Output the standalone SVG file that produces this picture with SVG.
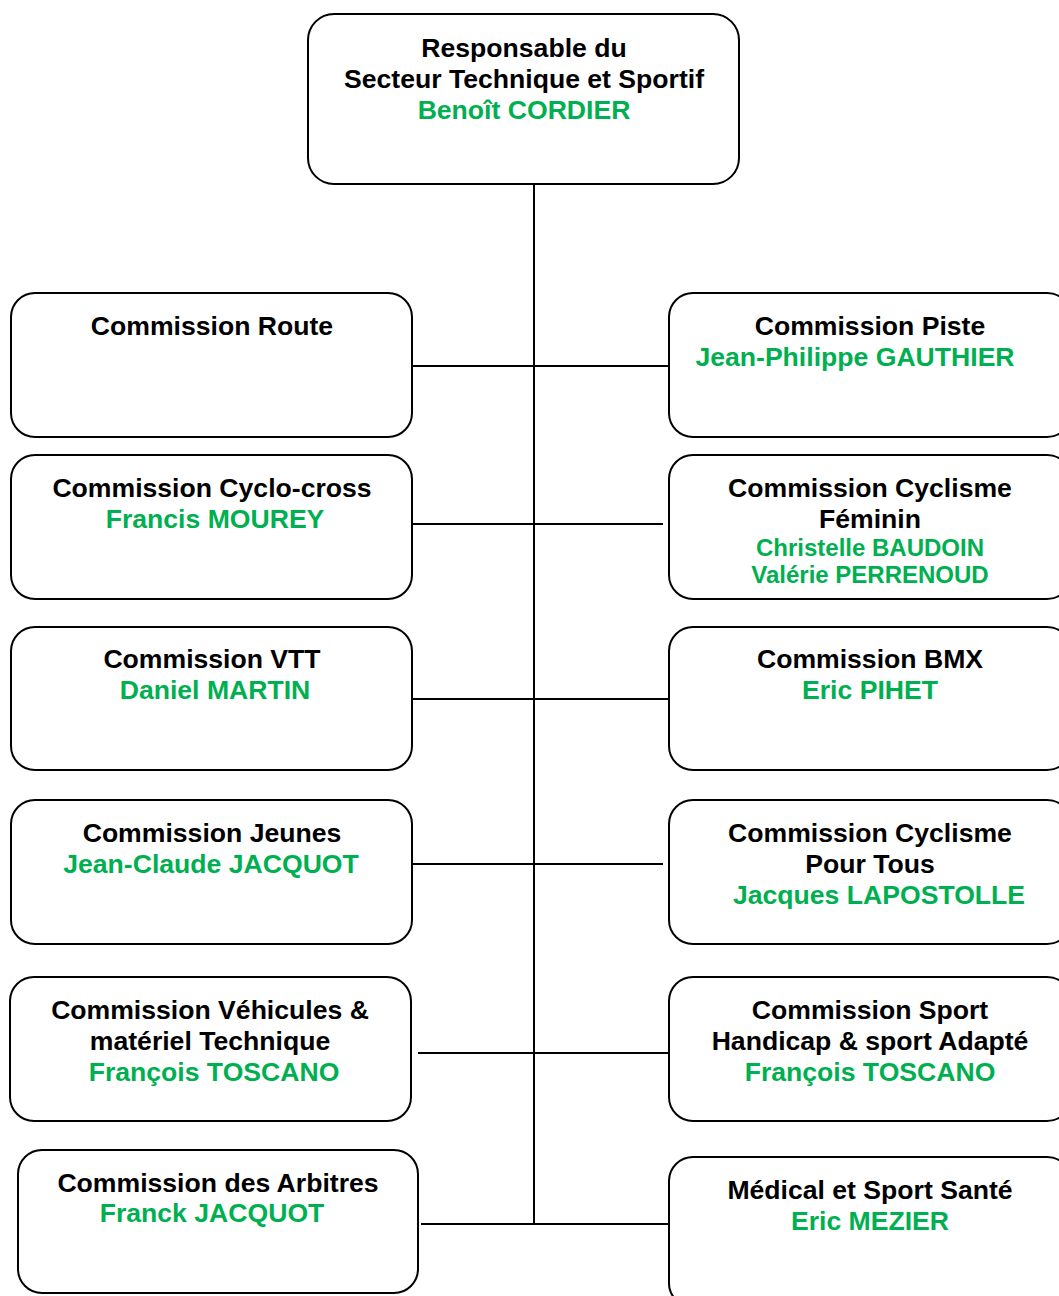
<svg xmlns="http://www.w3.org/2000/svg" width="1059" height="1296" viewBox="0 0 1059 1296">
<style>
.box{fill:#fff;stroke:#000;stroke-width:2}
.ln{stroke:#000;stroke-width:2;fill:none}
text{font-family:"Liberation Sans",Arial,sans-serif;font-weight:bold;font-size:26.6px;text-anchor:middle}
.t{fill:#000}
.g{fill:#00B050}
.s{font-size:24px}
</style>
<rect width="1059" height="1296" fill="#fff"/>
<g id="connectors">
<line class="ln" x1="534" y1="184" x2="534" y2="1224"/>
<line class="ln" x1="412" y1="366" x2="669" y2="366"/>
<line class="ln" x1="412" y1="524" x2="663" y2="524"/>
<line class="ln" x1="412" y1="699" x2="669" y2="699"/>
<line class="ln" x1="412" y1="864" x2="663" y2="864"/>
<line class="ln" x1="418" y1="1053" x2="669" y2="1053"/>
<line class="ln" x1="421" y1="1224" x2="669" y2="1224"/>
</g>
<g id="n-top">
<rect class="box" x="308" y="14" width="431" height="170" rx="26"/>
<text class="t" x="524" y="57">Responsable du</text>
<text class="t" x="524" y="88">Secteur Technique et Sportif</text>
<text class="g" x="524" y="119">Benoît CORDIER</text>
</g>
<g id="n-route">
<rect class="box" x="11" y="293" width="401" height="144" rx="24"/>
<text class="t" x="212" y="335">Commission Route</text>
</g>
<g id="n-cyclocross">
<rect class="box" x="11" y="455" width="401" height="144" rx="24"/>
<text class="t" x="212" y="497">Commission Cyclo-cross</text>
<text class="g" x="215" y="528">Francis MOUREY</text>
</g>
<g id="n-vtt">
<rect class="box" x="11" y="627" width="401" height="143" rx="24"/>
<text class="t" x="212" y="668">Commission VTT</text>
<text class="g" x="215" y="699">Daniel MARTIN</text>
</g>
<g id="n-jeunes">
<rect class="box" x="11" y="800" width="401" height="144" rx="24"/>
<text class="t" x="212" y="842">Commission Jeunes</text>
<text class="g" x="211" y="873">Jean-Claude JACQUOT</text>
</g>
<g id="n-vehicules">
<rect class="box" x="10" y="977" width="401" height="144" rx="24"/>
<text class="t" x="210" y="1019">Commission Véhicules &amp;</text>
<text class="t" x="210" y="1050">matériel Technique</text>
<text class="g" x="214" y="1081">François TOSCANO</text>
</g>
<g id="n-arbitres">
<rect class="box" x="18" y="1150" width="400" height="143" rx="24"/>
<text class="t" x="218" y="1192">Commission des Arbitres</text>
<text class="g" x="212" y="1222">Franck JACQUOT</text>
</g>
<g id="n-piste">
<rect class="box" x="669" y="293" width="402" height="144" rx="24"/>
<text class="t" x="870" y="335">Commission Piste</text>
<text class="g" x="855" y="366">Jean-Philippe GAUTHIER</text>
</g>
<g id="n-feminin">
<rect class="box" x="669" y="455" width="402" height="144" rx="24"/>
<text class="t" x="870" y="497">Commission Cyclisme</text>
<text class="t" x="870" y="528">Féminin</text>
<text class="g s" x="870" y="556">Christelle BAUDOIN</text>
<text class="g s" x="870" y="583">Valérie PERRENOUD</text>
</g>
<g id="n-bmx">
<rect class="box" x="669" y="627" width="402" height="143" rx="24"/>
<text class="t" x="870" y="668">Commission BMX</text>
<text class="g" x="870" y="699">Eric PIHET</text>
</g>
<g id="n-pourtous">
<rect class="box" x="669" y="800" width="402" height="144" rx="24"/>
<text class="t" x="870" y="842">Commission Cyclisme</text>
<text class="t" x="870" y="873">Pour Tous</text>
<text class="g" x="879" y="904">Jacques LAPOSTOLLE</text>
</g>
<g id="n-handicap">
<rect class="box" x="669" y="977" width="402" height="144" rx="24"/>
<text class="t" x="870" y="1019">Commission Sport</text>
<text class="t" x="870" y="1050">Handicap &amp; sport Adapté</text>
<text class="g" x="870" y="1081">François TOSCANO</text>
</g>
<g id="n-medical">
<rect class="box" x="669" y="1157" width="402" height="150" rx="24"/>
<text class="t" x="870" y="1199">Médical et Sport Santé</text>
<text class="g" x="870" y="1230">Eric MEZIER</text>
</g>
</svg>
